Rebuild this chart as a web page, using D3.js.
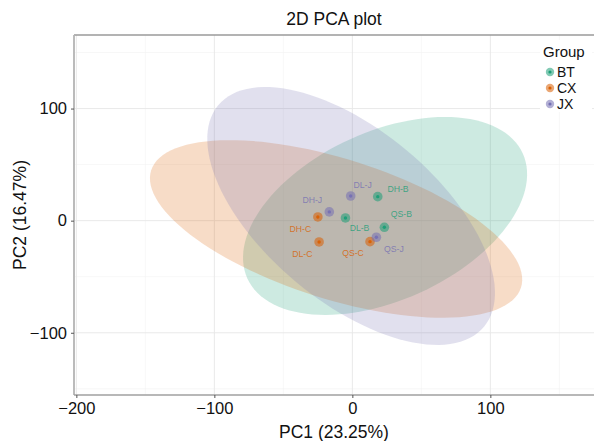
<!DOCTYPE html>
<html>
<head>
<meta charset="utf-8">
<script src="https://cdn.jsdelivr.net/npm/d3@7"></script>
<style>
  html, body { margin: 0; padding: 0; background: #fff; }
  svg { display: block; font-family: "Liberation Sans", Arial, sans-serif; }
</style>
</head>
<body>
<div id="chart"></div>
<script>
// ---- Data ---------------------------------------------------------
const groups = ['BT', 'CX', 'JX'];
const groupColors = ['#1B9E77', '#D95F02', '#7570B3'];

// samples: PC1, PC2 scores
const sampleNames = ['DH-B', 'DL-B', 'QS-B', 'DH-C', 'DL-C', 'QS-C', 'DH-J', 'DL-J', 'QS-J'];
const sampleGroup = ['BT', 'BT', 'BT', 'CX', 'CX', 'CX', 'JX', 'JX', 'JX'];
const pc1 = [18.4, -5.0, 23.2, -25.0, -24.1, 12.8, -16.7, -1.2, 17.4];
const pc2 = [21.4, 2.4, -5.9, 3.3, -19.0, -18.7, 7.8, 22.0, -14.8];
// repelled label anchors (data units)
const labelX = [33.1, 5.2, 35.5, -37.7, -36.2, 0.5, -29.0, 7.4, 30.1];
const labelY = [28.3, -6.2, 5.7, -7.7, -30.0, -28.5, 18.2, 32.1, -25.0];

// confidence ellipses: centre + two conjugate half-axis vectors (data units)
const ellCx = [23.7, -11.8, -0.9];
const ellCy = [4.2, -7.4, 4.2];
const ellU = [[99.8, 55.7], [134.0, -52.3], [96.3, -98.8]];
const ellV = [[25.2, -68.5], [-15.4, -59.5], [-39.9, -58.9]];

const xTicks = [-200, -100, 0, 100];
const yTicks = [-100, 0, 100];
const xMinor = [-150, -50, 50, 150];
const yMinor = [-150, -50, 50, 150];

// ---- Layout -------------------------------------------------------
const W = 594, H = 441;
const M = { top: 35, right: 0, bottom: 46, left: 74 };

const svg = d3.select('#chart').append('svg')
  .attr('width', W).attr('height', H);

const x = d3.scaleLinear().domain([-201.7, 175.1]).range([M.left, W - M.right]);
const y = d3.scaleLinear().domain([-155.5, 165.6]).range([H - M.bottom, M.top]);
const color = d3.scaleOrdinal().domain(groups).range(groupColors);

// grid
const grid = svg.append('g');
grid.selectAll('.xm').data(xMinor).join('line')
  .attr('x1', d => x(d)).attr('x2', d => x(d))
  .attr('y1', M.top).attr('y2', H - M.bottom)
  .attr('stroke', '#f1f1f1').attr('stroke-width', 0.6);
grid.selectAll('.ym').data(yMinor).join('line')
  .attr('y1', d => y(d)).attr('y2', d => y(d))
  .attr('x1', M.left).attr('x2', W - M.right)
  .attr('stroke', '#f1f1f1').attr('stroke-width', 0.6);
grid.selectAll('.xg').data(xTicks).join('line')
  .attr('x1', d => x(d)).attr('x2', d => x(d))
  .attr('y1', M.top).attr('y2', H - M.bottom)
  .attr('stroke', '#e6e6e6').attr('stroke-width', 0.9);
grid.selectAll('.yg').data(yTicks).join('line')
  .attr('y1', d => y(d)).attr('y2', d => y(d))
  .attr('x1', M.left).attr('x2', W - M.right)
  .attr('stroke', '#e6e6e6').attr('stroke-width', 0.9);

// ellipses
const ellLine = d3.line().x(d => x(d[0])).y(d => y(d[1]));
const ellData = groups.map((g, i) => {
  const pts = d3.range(0, 121).map(k => {
    const t = k / 120 * 2 * Math.PI;
    return [
      ellCx[i] + ellU[i][0] * Math.cos(t) + ellV[i][0] * Math.sin(t),
      ellCy[i] + ellU[i][1] * Math.cos(t) + ellV[i][1] * Math.sin(t)
    ];
  });
  return { g, pts };
});
svg.append('g').selectAll('path').data(ellData).join('path')
  .attr('d', d => ellLine(d.pts) + 'Z')
  .attr('fill', d => color(d.g))
  .attr('fill-opacity', 0.22)
  .attr('stroke', 'none');

// panel border + axis lines
svg.append('line')
  .attr('x1', M.left).attr('x2', W).attr('y1', M.top).attr('y2', M.top)
  .attr('stroke', '#9a9a9a').attr('stroke-width', 1.3);
svg.append('line')
  .attr('x1', M.left).attr('x2', M.left).attr('y1', M.top).attr('y2', H - M.bottom)
  .attr('stroke', '#b4b4b4').attr('stroke-width', 1.8);
svg.append('line')
  .attr('x1', M.left).attr('x2', W).attr('y1', H - M.bottom).attr('y2', H - M.bottom)
  .attr('stroke', '#a0a0a0').attr('stroke-width', 1.5);

// axes
const xAxis = svg.append('g')
  .attr('transform', `translate(0,${H - M.bottom})`)
  .call(d3.axisBottom(x).tickValues(xTicks).tickSize(3).tickPadding(4)
    .tickFormat(d => d < 0 ? '\u2212' + Math.abs(d) : d));
const yAxis = svg.append('g')
  .attr('transform', `translate(${M.left},0)`)
  .call(d3.axisLeft(y).tickValues(yTicks).tickSize(3).tickPadding(4)
    .tickFormat(d => d < 0 ? '\u2212' + Math.abs(d) : d));
[xAxis, yAxis].forEach(a => {
  a.select('.domain').remove();
  a.selectAll('.tick line').attr('stroke', '#555').attr('stroke-width', 1);
  a.selectAll('.tick text').attr('fill', '#111')
    .attr('font-size', 16.5).attr('font-family', '"Liberation Sans", Arial, sans-serif');
});

// points
const samples = sampleNames.map((n, i) => ({
  name: n, g: sampleGroup[i], x: pc1[i], y: pc2[i], lx: labelX[i], ly: labelY[i]
}));
const pts = svg.append('g');
pts.selectAll('.outer').data(samples).join('circle')
  .attr('cx', d => x(d.x)).attr('cy', d => y(d.y)).attr('r', 4.8)
  .attr('fill', d => color(d.g)).attr('fill-opacity', 0.55);
pts.selectAll('.inner').data(samples).join('circle')
  .attr('cx', d => x(d.x)).attr('cy', d => y(d.y)).attr('r', 1.7)
  .attr('fill', d => color(d.g)).attr('fill-opacity', 0.95);

// labels
svg.append('g').selectAll('text').data(samples).join('text')
  .attr('x', d => x(d.lx)).attr('y', d => y(d.ly))
  .attr('dy', '0.35em').attr('text-anchor', 'middle')
  .attr('font-size', 8.7)
  .attr('fill', d => color(d.g)).attr('fill-opacity', 0.8)
  .text(d => d.name);

// legend
const lg = svg.append('g');
lg.append('rect').attr('x', 540).attr('y', 40).attr('width', 52).attr('height', 72)
  .attr('fill', '#fff');
lg.append('text').attr('x', 543).attr('y', 57).attr('font-size', 15).attr('fill', '#111')
  .text('Group');
groups.forEach((g, i) => {
  const cy = 72 + i * 16;
  lg.append('circle').attr('cx', 550).attr('cy', cy).attr('r', 4.2)
    .attr('fill', color(g)).attr('fill-opacity', 0.55);
  lg.append('circle').attr('cx', 550).attr('cy', cy).attr('r', 1.6)
    .attr('fill', color(g));
  lg.append('text').attr('x', 557).attr('y', cy).attr('dy', '0.36em')
    .attr('font-size', 14).attr('fill', '#111').text(g);
});

// titles
svg.append('text').attr('x', (M.left + W) / 2).attr('y', 25)
  .attr('text-anchor', 'middle').attr('font-size', 17.5).attr('fill', '#111')
  .text('2D PCA plot');
svg.append('text').attr('x', (M.left + W) / 2).attr('y', 438)
  .attr('text-anchor', 'middle').attr('font-size', 17.5).attr('fill', '#111')
  .text('PC1 (23.25%)');
svg.append('text')
  .attr('transform', `translate(26,${(M.top + H - M.bottom) / 2}) rotate(-90)`)
  .attr('text-anchor', 'middle').attr('font-size', 17.5).attr('fill', '#111')
  .text('PC2 (16.47%)');
</script>
</body>
</html>
